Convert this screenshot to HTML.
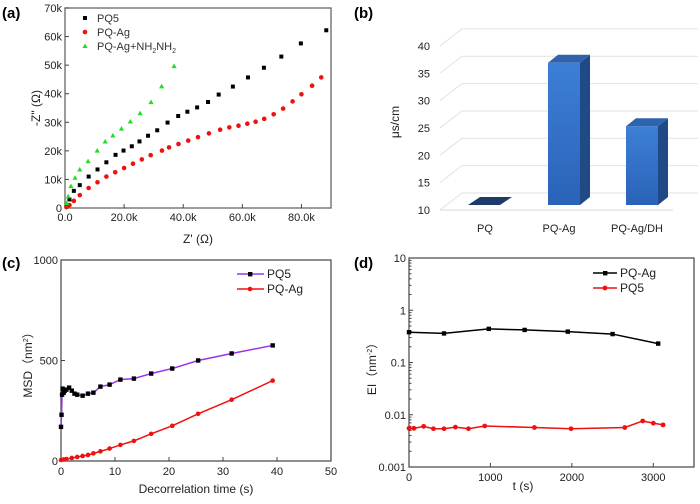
<!DOCTYPE html>
<html><head><meta charset="utf-8"><style>
body{margin:0;background:#fff;}
svg{display:block;font-family:"Liberation Sans","Noto Sans CJK SC",sans-serif;}
</style></head><body>
<svg id="s" width="700" height="504" viewBox="0 0 700 504">
<text x="2" y="18" font-size="15" font-weight="bold">(a)</text>
<text x="354" y="18" font-size="15" font-weight="bold">(b)</text>
<text x="2" y="268" font-size="15" font-weight="bold">(c)</text>
<text x="354" y="268" font-size="15" font-weight="bold">(d)</text>
</svg>
<script>
// Panel (a) data
const aPQ5X=[0.5,1.5,3,5,8,11,14,17.1,19.8,22.6,25.2,28.1,31.2,34.7,38.3,41.4,44.7,48.4,52,56.8,61.9,67.3,73.2,79.8,88.4];
const aPQ5Y=[1,3,6,8,11,13.5,16,18.6,20.1,21.6,23.3,25.3,27.2,29.9,32.2,33.7,35.2,37.1,39.7,42.5,45.7,49.1,53,57.6,62.2];
const aAgX=[0.5,1.5,3,5,8,11,14,17,20,23,26,29,32.8,35.2,38.4,41.7,45,48.7,52.5,55.6,58.7,61.7,64.5,67.4,70.6,73.8,77,80,83.6,86.7];
const aAgY=[0.3,1,2.5,4.5,7,9,11,12.5,14,15.5,17,18.5,20.1,21.2,22.4,23.6,24.8,26.1,27.4,28.2,28.8,29.5,30.2,31.2,32.8,34.8,37.3,39.8,42.8,45.7];
const aNHX=[0.5,1.1,2,3.4,5,7.8,10.9,13.6,16.2,19.1,22.1,25.4,29.1,32.7,36.9];
const aNHY=[1.7,4,7.6,10.5,13.4,16.3,20,23.2,25.3,27.7,30.2,33.1,37,42.5,49.6];
const aYTicks=[0,10,20,30,40,50,60,70];
const aYLabels=["0","10k","20k","30k","40k","50k","60k","70k"];
const aXTicks=[0,20,40,60,80];
const aXLabels=["0.0","20.0k","40.0k","60.0k","80.0k"];
// Panel (b) data
const bCats=["PQ","PQ-Ag","PQ-Ag/DH"];
const bVals=[10.2,36,24.4];
const bTicks=[10,15,20,25,30,35,40];
// Panel (c) data
const cPQ5T=[0,0.1,0.2,0.3,0.5,0.7,1,1.5,2,2.5,3,4,5,6,7.3,9,11,13.5,16.7,20.6,25.4,31.6,39.2];
const cPQ5M=[170,230,330,360,340,350,355,365,350,335,330,325,335,340,370,380,405,410,435,460,500,535,575];
const cAgT=[0,0.5,1,2,3,4,5,6,7.3,9,11,13.5,16.7,20.6,25.4,31.6,39.2];
const cAgM=[5,8,10,15,20,25,30,38,48,62,80,100,135,175,235,305,400];
const cXTicks=[0,10,20,30,40,50];
const cYTicks=[0,500,1000];
// Panel (d) data
const dAgT=[0,430,980,1420,1950,2500,3060];
const dAgE=[0.38,0.36,0.44,0.42,0.39,0.35,0.23];
const dPQ5T=[0,60,180,300,430,570,730,930,1540,1990,2650,2870,3000,3120];
const dPQ5E=[0.0055,0.0055,0.006,0.0054,0.0054,0.0058,0.0054,0.0061,0.0057,0.0054,0.0057,0.0076,0.0069,0.0064];
const dXTicks=[0,1000,2000,3000];
const dYTicks=[0.001,0.01,0.1,1,10];
const dYLabels=["0.001","0.01","0.1","1","10"];

const S=document.getElementById('s');
const NS='http://www.w3.org/2000/svg';
function mk(tag,at,parent){const e=document.createElementNS(NS,tag);for(const k in at)e.setAttribute(k,at[k]);(parent||S).appendChild(e);return e;}
function tx(x,y,s,size,anchor,fill){const e=mk('text',{x:x,y:y,'font-size':size||11,'text-anchor':anchor||'middle',fill:fill||'#222'});e.textContent=s;return e;}

// ===== Panel A =====
(function(){
const L=65,R=331,T=8,B=208;
const X=v=>L+v*(R-L)/90, Y=v=>B-v*(B-T)/70;
const f=mk('rect',{x:L,y:T,width:R-L,height:B-T,fill:'none',stroke:'#666','stroke-width':1.3});


aYTicks.forEach((v,i)=>{const l=mk('line',{x1:L,x2:L+4,y1:Y(v),y2:Y(v),stroke:'#444'});

const t=tx(L-3,Y(v)+4,aYLabels[i],11,'end');});
aXTicks.forEach((v,i)=>{const l=mk('line',{x1:X(v),x2:X(v),y1:B,y2:B-4,stroke:'#444'});

const t=tx(X(v),B+13,aXLabels[i],11);});
let t=tx(198,243,"Z' (Ω)",12);
t=tx(0,0,'-Z" (Ω)',12);t.setAttribute('transform','translate(40,108) rotate(-90)');

aPQ5X.forEach((v,i)=>{const r=mk('rect',{x:X(v)-2,y:Y(aPQ5Y[i])-2,width:4,height:4,fill:'#000'});
});
aAgX.forEach((v,i)=>{const c=mk('circle',{cx:X(v),cy:Y(aAgY[i]),r:2.3,fill:'#f01010'});
});
aNHX.forEach((v,i)=>{const x=X(v),y=Y(aNHY[i]);const p=mk('polygon',{points:`${x},${y-2.8} ${x-2.6},${y+1.8} ${x+2.6},${y+1.8}`,fill:'#22dd22'});
});
// legend
let r=mk('rect',{x:83,y:16,width:4,height:4,fill:'#000'});
t=tx(97,22,'PQ5',11,'start','#333');
let c=mk('circle',{cx:85,cy:32,r:2.3,fill:'#f01010'});
t=tx(97,36,'PQ-Ag',11,'start','#333');
let p=mk('polygon',{points:'85,43.5 82.4,48 87.6,48',fill:'#22dd22'});
t=mk('text',{x:97,y:50,'font-size':11,fill:'#333'});
t.innerHTML='PQ-Ag+NH<tspan font-size="7" dy="3">2</tspan><tspan dy="-3">NH</tspan><tspan font-size="7" dy="3">2</tspan>';

})();

// ===== Panel B =====
(function(){
const FL=440,FR=673,B0=210,dx=22,dy=-17;
const Y=v=>B0-(v-10)*5.47;
bTicks.forEach(v=>{const y=Y(v);
const g=mk('polyline',{points:`${FL},${y} ${FL+dx},${y+dy} 698,${y+dy}`,fill:'none',stroke:'#e2e2e2','stroke-width':1});

const t=tx(FL-10,y+4,String(v),11,'end');});
const fl=mk('line',{x1:FL,y1:B0,x2:FR,y2:B0,stroke:'#d8d8d8'});
let t=tx(0,0,'μs/cm',12);t.setAttribute('transform','translate(399,122) rotate(-90)');

const centers=[490,564,642];
const defs=mk('defs',{});
const gr=mk('linearGradient',{id:'bg',x1:0,y1:0,x2:0,y2:1},defs);
mk('stop',{offset:0,'stop-color':'#3d7fd6'},gr);mk('stop',{offset:1,'stop-color':'#2a63b8'},gr);
bCats.forEach((c,i)=>{const cx=centers[i],w=32,x0=cx-w/2,bb=205,top=bb-(bVals[i]-10)*5.47,ox=10,oy=-8;
const g=mk('g',{});
if(bVals[i]-10<1){mk('polygon',{points:`${x0-6},${bb} ${x0+w-6},${bb} ${x0+w+6},${bb+oy} ${x0+6},${bb+oy}`,fill:'#1d3c68'},g);}
else{
mk('rect',{x:x0,y:top,width:w,height:bb-top,fill:'url(#bg)'},g);
mk('polygon',{points:`${x0+w},${top} ${x0+w+ox},${top+oy} ${x0+w+ox},${bb+oy} ${x0+w},${bb}`,fill:'#1f4a85'},g);
mk('polygon',{points:`${x0},${top} ${x0+ox},${top+oy} ${x0+w+ox},${top+oy} ${x0+w},${top}`,fill:'#2d64ad'},g);}
const l=tx(cx-5,232,c,11,'middle');});
})();

// ===== Panel C =====
(function(){
const L=61,R=331,T=260,B=461;
const X=v=>L+v*(R-L)/50, Y=v=>B-v*(B-T)/1000;
const f=mk('rect',{x:L,y:T,width:R-L,height:B-T,fill:'none',stroke:'#444','stroke-width':1.2});

cXTicks.forEach(v=>{const l=mk('line',{x1:X(v),x2:X(v),y1:B,y2:B-4,stroke:'#444'});
const t=tx(X(v),B+14,String(v),11);});
cYTicks.forEach(v=>{const l=mk('line',{x1:L,x2:L+4,y1:Y(v),y2:Y(v),stroke:'#444'});
const t=tx(L-3,Y(v)+4,String(v),11,'end');});
let t=tx(196,493,'Decorrelation time (s)',12);
t=mk('text',{'font-size':12,'text-anchor':'middle',fill:'#222',transform:'translate(32,362) rotate(-90)'});
t.innerHTML='MSD（nm<tspan font-size="7" dy="-4">2</tspan><tspan dy="4">）</tspan>';

let pl=mk('polyline',{points:cPQ5T.map((v,i)=>X(v)+','+Y(cPQ5M[i])).join(' '),fill:'none',stroke:'#9933ee','stroke-width':1.5});

cPQ5T.forEach((v,i)=>{const r=mk('rect',{x:X(v)-2.2,y:Y(cPQ5M[i])-2.2,width:4.4,height:4.4,fill:'#000'});});
pl=mk('polyline',{points:cAgT.map((v,i)=>X(v)+','+Y(cAgM[i])).join(' '),fill:'none',stroke:'#f01010','stroke-width':1.5});

cAgT.forEach((v,i)=>{const c=mk('circle',{cx:X(v),cy:Y(cAgM[i]),r:2.3,fill:'#f01010'});});
let l=mk('line',{x1:237,x2:264,y1:274,y2:274,stroke:'#9933ee','stroke-width':1.5});
let r=mk('rect',{x:248,y:272,width:4.4,height:4.4,fill:'#000'});
t=tx(267,278,'PQ5',12,'start');
l=mk('line',{x1:237,x2:264,y1:289,y2:289,stroke:'#f01010','stroke-width':1.5});
let c=mk('circle',{cx:250,cy:289,r:2.3,fill:'#f01010'});
t=tx(267,293,'PQ-Ag',12,'start');
})();

// ===== Panel D =====
(function(){
const L=409,R=694,T=258,B=467;
const X=v=>L+v*(R-L)/3500, Y=v=>B-(Math.log10(v)+3)*(B-T)/4;
const f=mk('rect',{x:L,y:T,width:R-L,height:B-T,fill:'none',stroke:'#444','stroke-width':1.2});

dXTicks.forEach(v=>{const l=mk('line',{x1:X(v),x2:X(v),y1:B,y2:B-4,stroke:'#444'});
const t=tx(X(v),B+14,String(v),11);});
dYTicks.forEach((v,i)=>{const l=mk('line',{x1:L,x2:L+4,y1:Y(v),y2:Y(v),stroke:'#444'});
const t=tx(L-3,Y(v)+4,dYLabels[i],11,'end');
if(i<4)for(let k=2;k<10;k++){const m=mk('line',{x1:L,x2:L+2.5,y1:Y(v*k),y2:Y(v*k),stroke:'#444'});}});
let t=tx(523,490,'t (s)',12);
t=mk('text',{'font-size':12,'text-anchor':'middle',fill:'#222',transform:'translate(376,366) rotate(-90)'});
t.innerHTML='EI（nm<tspan font-size="7" dy="-4">-2</tspan><tspan dy="4">）</tspan>';

let pl=mk('polyline',{points:dAgT.map((v,i)=>X(v)+','+Y(dAgE[i])).join(' '),fill:'none',stroke:'#000','stroke-width':1.5});

dAgT.forEach((v,i)=>{const r=mk('rect',{x:X(v)-2.2,y:Y(dAgE[i])-2.2,width:4.4,height:4.4,fill:'#000'});});
pl=mk('polyline',{points:dPQ5T.map((v,i)=>X(v)+','+Y(dPQ5E[i])).join(' '),fill:'none',stroke:'#f01010','stroke-width':1.5});

dPQ5T.forEach((v,i)=>{const c=mk('circle',{cx:X(v),cy:Y(dPQ5E[i]),r:2.4,fill:'#f01010'});});
let l=mk('line',{x1:593,x2:617,y1:273,y2:273,stroke:'#000','stroke-width':1.5});
let r=mk('rect',{x:603,y:271,width:4.4,height:4.4,fill:'#000'});
t=tx(620,277,'PQ-Ag',12,'start');
l=mk('line',{x1:593,x2:617,y1:288,y2:288,stroke:'#f01010','stroke-width':1.5});
let c=mk('circle',{cx:605,cy:288,r:2.4,fill:'#f01010'});
t=tx(620,292,'PQ5',12,'start');
})();
</script>
</body></html>
